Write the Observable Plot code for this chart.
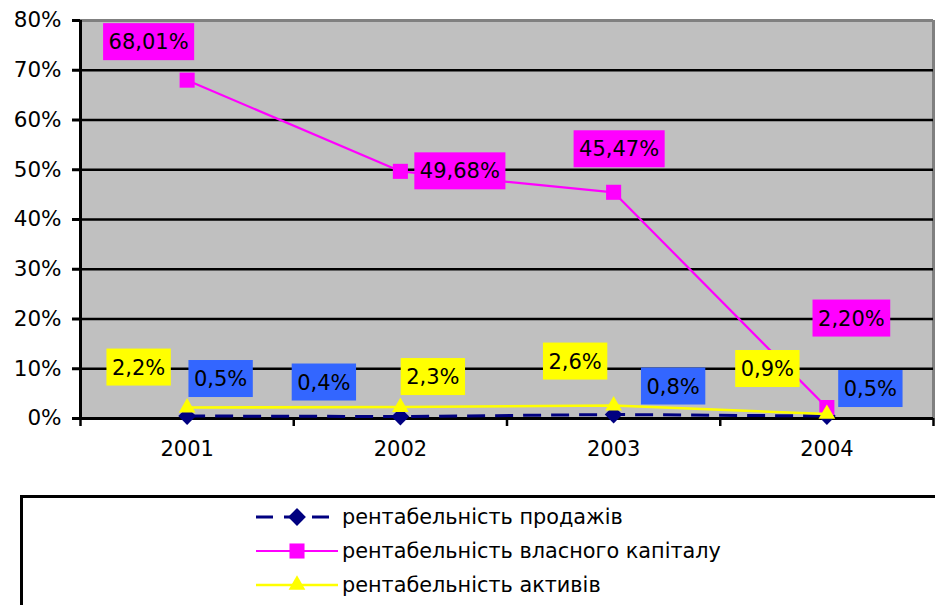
<!DOCTYPE html>
<html><head><meta charset="utf-8">
<script src="https://cdn.jsdelivr.net/npm/d3@7"></script>
<script src="https://cdn.jsdelivr.net/npm/@observablehq/plot@0.6"></script>
<style>
html,body{margin:0;padding:0;background:#fff;}
body{font-family:"DejaVu Sans",Verdana,sans-serif;overflow:hidden;width:935px;height:605px;position:relative;}
#legend{position:absolute;left:20px;top:495px;width:960px;height:160px;border:3px solid #000;box-sizing:border-box;background:#fff;}
.row{position:absolute;left:233px;height:34px;display:flex;align-items:center;font-size:20.8px;color:#000;white-space:nowrap;}
.row svg{margin-right:2px;}
</style></head><body>
<div id="chart"></div>
<div id="legend"></div>
<script>
// ---- data ----
const years = [2001, 2002, 2003, 2004];
const seriesNames = ["рентабельність продажів", "рентабельність власного капіталу", "рентабельність активів"];
const salesValues = [0.5, 0.4, 0.8, 0.5];
const equityValues = [68.01, 49.68, 45.47, 2.20];
const assetsValues = [2.2, 2.3, 2.6, 0.9];
const yTicks = [0, 10, 20, 30, 40, 50, 60, 70, 80];
const labelDecimals = [1, 2, 1];

// ---- styling (label offsets in px relative to the point) ----
const salesLabelOffsets = [[34, -37], [-76, -34], [60, -28], [44, -27]];
const equityLabelOffsets = [[-38, -38], [60, 0], [6, -43], [25, -89]];
const assetsLabelOffsets = [[-48, -40], [33, -30], [-38, -44], [-59, -45]];

const series = [
  {name: seriesNames[0], values: salesValues, color: "#000080", box: "#3366FF", symbol: "diamond2", r: 8, dash: "18,10", width: 3, offsets: salesLabelOffsets, dec: labelDecimals[0]},
  {name: seriesNames[1], values: equityValues, color: "#FF00FF", box: "#FF00FF", symbol: "square", r: 8.5, dash: null, width: 2.2, offsets: equityLabelOffsets, dec: labelDecimals[1]},
  {name: seriesNames[2], values: assetsValues, color: "#FFFF00", box: "#FFFF00", symbol: "triangle", r: 6.2, dash: null, width: 2.6, offsets: assetsLabelOffsets, dec: labelDecimals[2]}
];

const fmt = (v, dec) => v.toFixed(dec).replace(".", ",") + "%";
const bounds = d3.range(years.length + 1).map(i => years[0] - 0.5 + i);

const canvas = document.createElement("canvas");
const ctx2d = canvas.getContext("2d");
ctx2d.font = "21px 'DejaVu Sans'";

function labelMark(s) {
  const data = years.map((y, i) => ({year: y, value: s.values[i], label: fmt(s.values[i], s.dec), i}));
  return Plot.text(data, {
    x: "year", y: "value", text: "label",
    render(index, scales, values) {
      const g = d3.create("svg:g");
      for (const i of index) {
        const cx = values.x[i] + s.offsets[i][0];
        const cy = values.y[i] + s.offsets[i][1];
        const t = data[i].label;
        const w = ctx2d.measureText(t).width + 11;
        const h = 37;
        g.append("rect").attr("x", cx - w / 2).attr("y", cy - h / 2).attr("width", w).attr("height", h).attr("fill", s.box);
        g.append("text").attr("x", cx).attr("y", cy).attr("dy", "0.36em").attr("text-anchor", "middle")
          .attr("font-size", 21).attr("font-family", "DejaVu Sans").attr("fill", "#000").text(t);
      }
      return g.node();
    }
  });
}

const chart = Plot.plot({
  width: 935,
  height: 496,
  marginLeft: 80,
  marginRight: 2,
  marginTop: 20,
  marginBottom: 78,
  style: {fontFamily: "DejaVu Sans", fontSize: "21px", color: "#000", background: "transparent", overflow: "visible"},
  x: {type: "linear", domain: [years[0] - 0.5, years[years.length - 1] + 0.5]},
  y: {domain: [0, 80]},
  marks: [
    Plot.frame({fill: "#C0C0C0", stroke: null}),
    Plot.ruleY([yTicks[yTicks.length - 1]], {stroke: "#808080", strokeWidth: 3}),
    Plot.ruleX([bounds[bounds.length - 1]], {stroke: "#808080", strokeWidth: 3}),
    Plot.ruleY(yTicks.slice(1, -1), {stroke: "#000", strokeWidth: 2.5}),
    Plot.axisY({ticks: yTicks, tickFormat: d => d + "%", tickSize: 8, tickPadding: 11, fontSize: 21.5, stroke: "#000", strokeWidth: 3, label: null}),
    Plot.axisX({ticks: years, tickFormat: d => String(d), tickSize: 0, tickPadding: 23, fontSize: 21, label: null}),
    Plot.axisX({ticks: bounds, tickFormat: () => "", tickSize: 8, stroke: "#000", strokeWidth: 2.5, label: null}),
    Plot.ruleX([bounds[0]], {stroke: "#000", strokeWidth: 3}),
    Plot.ruleY([0], {stroke: "#000", strokeWidth: 3}),
    ...series.flatMap(s => {
      const data = years.map((y, i) => ({year: y, value: s.values[i]}));
      return [
        Plot.line(data, {x: "year", y: "value", stroke: s.color, strokeWidth: s.width, strokeDasharray: s.dash, strokeLinecap: "butt"}),
        Plot.dot(data, {x: "year", y: "value", symbol: s.symbol, r: s.r, fill: s.color, stroke: null})
      ];
    }),
    ...series.map(s => labelMark(s))
  ]
});
document.getElementById("chart").appendChild(chart);

// ---- legend ----
const legend = d3.select("#legend");
const rowCenters = [19, 53, 87];
const symGen = {diamond2: d3.symbolDiamond2, square: d3.symbolSquare, triangle: d3.symbolTriangle};
series.forEach((s, k) => {
  const row = legend.append("div").attr("class", "row").style("top", (rowCenters[k] - 17) + "px");
  const svg = row.append("svg").attr("width", 84).attr("height", 34);
  svg.append("line").attr("x1", 0).attr("x2", 82).attr("y1", 17).attr("y2", 17)
    .attr("stroke", s.color).attr("stroke-width", s.width).attr("stroke-dasharray", s.dash ? "17,11" : null);
  svg.append("path").attr("transform", "translate(41,17)")
    .attr("d", d3.symbol(symGen[s.symbol], Math.PI * s.r * s.r)()).attr("fill", s.color);
  row.append("span").text(s.name);
});
</script>
</body></html>
